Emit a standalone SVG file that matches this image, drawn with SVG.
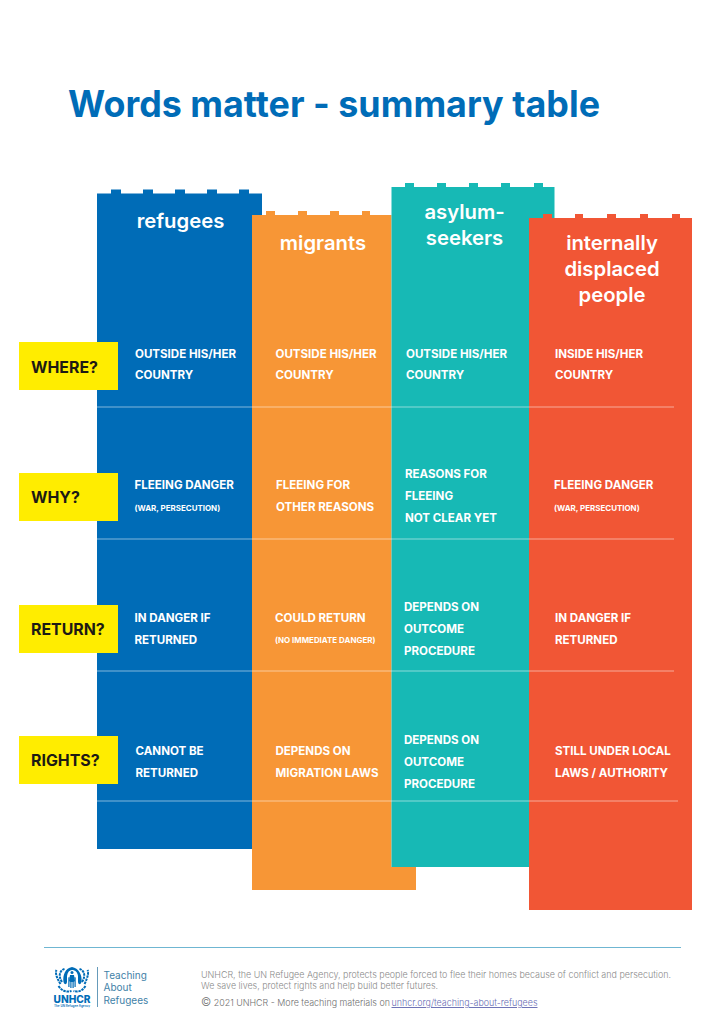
<svg xmlns="http://www.w3.org/2000/svg" width="725" height="1024" viewBox="0 0 725 1024">
<style>
text{font-family:Inter,"Liberation Sans",sans-serif}
.title{font-size:37px;font-weight:700;fill:#006cb7}
.h{font-size:20.3px;font-weight:600;fill:#fff;text-anchor:middle}
.c{font-size:11.55px;font-weight:700;fill:#fff}
.s{font-size:7.95px;font-weight:700;fill:#fff}
.q{font-size:15.9px;font-weight:700;fill:#1d1a14}
.y{fill:#ffed00}
.sep{stroke:#fff;stroke-opacity:.5;stroke-width:1;fill:none}
.f{font-size:9.6px;font-weight:300;fill:#8b8b8b}
.t{font-size:10px;font-weight:400;fill:#3f82a8}
.logo{fill:#006cb7}
</style>
<rect width="725" height="1024" fill="#fff"/>
<text class="title" x="68" y="117" textLength="532" lengthAdjust="spacingAndGlyphs">Words matter - summary table</text>

<g id="col-refugees">
<path fill="#006cb7" d="M97 193.500H111V189.500H121V193.500H143V189.500H153V193.500H175V189.500H185V193.500H207V189.500H217V193.500H239V189.500H249V193.500H262V849H97Z"/>
<text class="h" x="180.500" y="228">refugees</text>
</g>
<g id="col-migrants">
<path fill="#f79636" d="M252 215H266V211H275V215H298V211H307V215H330V211H339V215H362V211H370V215H391.500V867H416V890H252Z"/>
<text class="h" x="323" y="250">migrants</text>
</g>
<g id="col-asylum">
<path fill="#17b9b5" d="M391.500 187H405V183H414V187H437V183H446V187H469V183H478V187H501V183H510V187H534V183H543V187H554.500V218H529V867H391.500Z"/>
<text class="h" x="464.500" y="219">asylum-</text>
<text class="h" x="464.500" y="245">seekers</text>
</g>
<g id="col-idp">
<path fill="#f15635" d="M529 218H543V214H552V218H575V214H583V218H607V214H616V218H640V214H648V218H672V214H680V218H692V910H529Z"/>
<text class="h" x="612" y="250">internally</text>
<text class="h" x="612" y="276">displaced</text>
<text class="h" x="612" y="302">people</text>
</g>

<g id="separators">
<path class="sep" d="M97 407H674M97 539H674M97 671H674M97 801H678"/>
</g>

<g id="row-where">
<rect class="y" x="19" y="342" width="99" height="48"/>
<text class="q" x="31" y="372.500">WHERE?</text>
<text class="c" x="135" y="358">OUTSIDE HIS/HER</text><text class="c" x="135" y="379.300">COUNTRY</text>
<text class="c" x="275.500" y="358">OUTSIDE HIS/HER</text><text class="c" x="275.500" y="379.300">COUNTRY</text>
<text class="c" x="406" y="358">OUTSIDE HIS/HER</text><text class="c" x="406" y="379.300">COUNTRY</text>
<text class="c" x="555" y="358">INSIDE HIS/HER</text><text class="c" x="555" y="379.300">COUNTRY</text>
</g>
<g id="row-why">
<rect class="y" x="19" y="473" width="99" height="48"/>
<text class="q" x="31" y="503">WHY?</text>
<text class="c" x="134.500" y="489">FLEEING DANGER</text><text class="s" x="134.500" y="511">(WAR, PERSECUTION)</text>
<text class="c" x="276" y="489">FLEEING FOR</text><text class="c" x="276" y="511">OTHER REASONS</text>
<text class="c" x="405" y="478">REASONS FOR</text><text class="c" x="405" y="500">FLEEING</text><text class="c" x="405" y="522">NOT CLEAR YET</text>
<text class="c" x="554" y="489">FLEEING DANGER</text><text class="s" x="554" y="511">(WAR, PERSECUTION)</text>
</g>
<g id="row-return">
<rect class="y" x="19" y="605" width="99" height="48"/>
<text class="q" x="31" y="635">RETURN?</text>
<text class="c" x="134.500" y="622">IN DANGER IF</text><text class="c" x="134.500" y="644">RETURNED</text>
<text class="c" x="275" y="622">COULD RETURN</text><text class="s" x="275" y="643">(NO IMMEDIATE DANGER)</text>
<text class="c" x="404" y="611">DEPENDS ON</text><text class="c" x="404" y="633">OUTCOME</text><text class="c" x="404" y="655">PROCEDURE</text>
<text class="c" x="555" y="622">IN DANGER IF</text><text class="c" x="555" y="644">RETURNED</text>
</g>
<g id="row-rights">
<rect class="y" x="19" y="736" width="99" height="48"/>
<text class="q" x="31" y="766">RIGHTS?</text>
<text class="c" x="135.500" y="755">CANNOT BE</text><text class="c" x="135.500" y="777">RETURNED</text>
<text class="c" x="275.500" y="755">DEPENDS ON</text><text class="c" x="275.500" y="777">MIGRATION LAWS</text>
<text class="c" x="404" y="744">DEPENDS ON</text><text class="c" x="404" y="766">OUTCOME</text><text class="c" x="404" y="788">PROCEDURE</text>
<text class="c" x="555" y="755">STILL UNDER LOCAL</text><text class="c" x="555" y="777">LAWS / AUTHORITY</text>
</g>

<g id="footer">
<path d="M44 947.500H681" stroke="#6fb6d2" stroke-width="1" fill="none"/>
<g id="logo">
<path d="M62 982C57.500 975 60.500 970 64.500 969M82 982C86.500 975 83.500 970 79.500 969M60.500 984C55.500 976 55.500 972 56.500 970M84.500 984C88.500 976 88.500 972 87.500 970M58.500 986C62.500 992 67.500 992 71.500 991M85.500 986C81.500 992 77.500 992 73.500 991" fill="none" stroke="#006cb7" stroke-width="2" stroke-dasharray="2.500 .8"/>
<path class="logo" d="M72 967C65.500 968 62.500 975 63.500 982C64.500 985 66.500 985 67 982L67 976C67.500 972 69.500 970 72 970C75 970 77.500 972 78 976L78 982C78.500 985 80.500 985 81.500 982C82.500 975 78.500 968 72 967Z"/>
<circle class="logo" cx="72" cy="972.500" r="1.500"/>
<path class="logo" d="M70 975H74L75 981L73.700 982V988H72.500V982H71.500V988H70.300V982L69 981Z"/>
<path class="logo" d="M68.300 977.500L69.500 977V987H68.300ZM75.700 977.500L74.500 977V987H75.700Z"/>
<text x="53.500" y="1003" font-size="10.500" font-weight="800" fill="#006cb7" textLength="37" lengthAdjust="spacingAndGlyphs">UNHCR</text>
<text x="54" y="1007" font-size="3" font-weight="600" fill="#006cb7" textLength="36" lengthAdjust="spacingAndGlyphs">The UN Refugee Agency</text>
<path d="M97.500 967V1007" stroke="#3f82a8" stroke-width=".8" fill="none"/>
</g>
<text class="t" x="103.500" y="978.500">Teaching</text>
<text class="t" x="103.500" y="991">About</text>
<text class="t" x="103.500" y="1003.500">Refugees</text>
<text class="f" x="201" y="977.500" textLength="470" lengthAdjust="spacingAndGlyphs">UNHCR, the UN Refugee Agency, protects people forced to flee their homes because of conflict and persecution.</text>
<text class="f" x="201" y="989" textLength="237" lengthAdjust="spacingAndGlyphs">We save lives, protect rights and help build better futures.</text>
<text class="f" x="201" y="1006" textLength="189" lengthAdjust="spacingAndGlyphs" style="fill:#6f6f6f"><tspan font-size="12">©</tspan> 2021 UNHCR - More teaching materials on</text>
<text class="f" x="391.500" y="1006" textLength="146" lengthAdjust="spacingAndGlyphs" style="fill:#6a6fb5;text-decoration:underline">unhcr.org/teaching-about-refugees</text>
</g>
</svg>
